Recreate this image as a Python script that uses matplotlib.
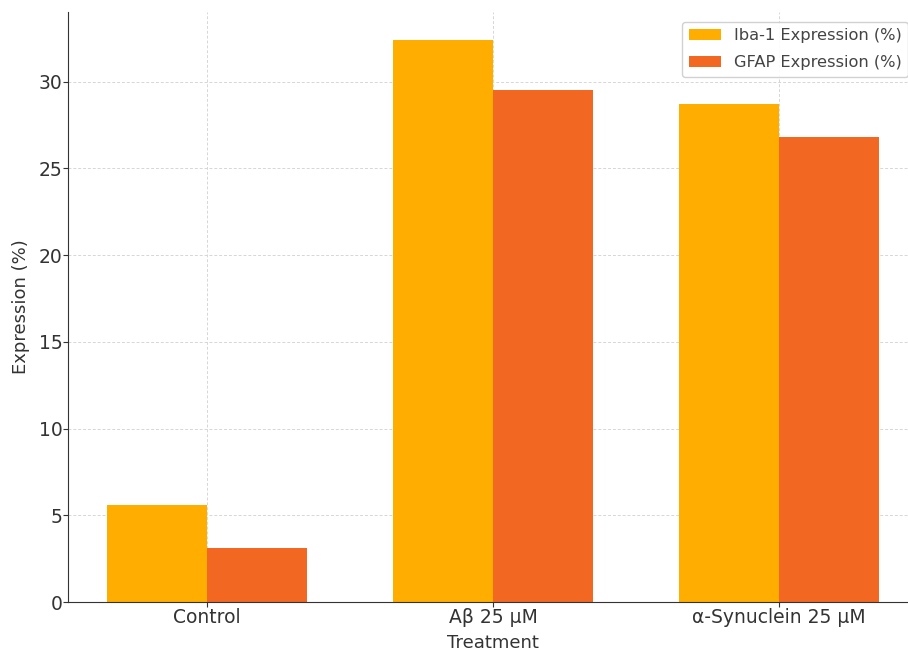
import numpy as np
import matplotlib.pyplot as plt

# data
treatments = ['Control', 'Aβ 25 μM', 'α-Synuclein 25 μM']
iba1 = [5.6, 32.4, 28.7]
gfap = [3.1, 29.5, 26.8]

fig = plt.figure(figsize=(9.08, 6.53), dpi=100)
# axes run past the right edge, the reference is cropped there
ax = fig.add_axes([68 / 908, 51 / 653, 850 / 908, 590 / 653])

x = np.arange(len(treatments))
w = 0.35
ax.bar(x - w / 2, iba1, w, color='#FFAE00', label='Iba-1 Expression (%)', zorder=2)
ax.bar(x + w / 2, gfap, w, color='#F26822', label='GFAP Expression (%)', zorder=2)

ax.set_xticks(x)
ax.set_xticklabels(treatments)
ax.set_xlabel('Treatment', fontsize=13, color='#333333', labelpad=5)
ax.set_ylabel('Expression (%)', fontsize=13, color='#333333', labelpad=6)
ax.tick_params(labelsize=13.5, colors='#333333', pad=0.5)
ax.grid(True, linestyle=(0, (3, 2)), color='#d6d6d6', linewidth=0.7, zorder=0)
for s in ['top', 'right']:
    ax.spines[s].set_visible(False)
for s in ['left', 'bottom']:
    ax.spines[s].set_color('#333333')

leg = ax.legend(loc='upper right', fontsize=11.7, framealpha=0.9, labelspacing=0.75,
                borderaxespad=0.6)
for t in leg.get_texts():
    t.set_color('#444444')

fig.savefig('out.png', dpi=100)
